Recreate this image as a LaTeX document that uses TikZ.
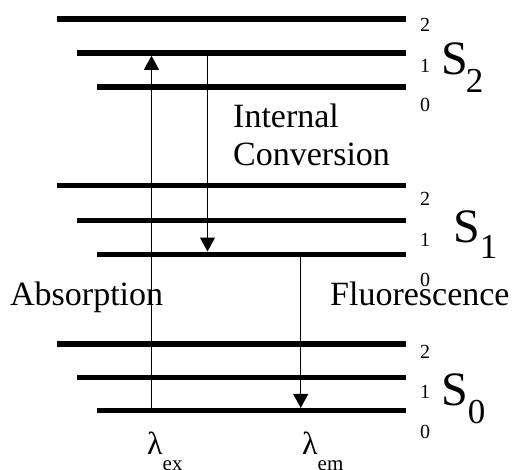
\documentclass[tikz,border=0pt]{standalone}
\usepackage{fontspec}
\setmainfont{Liberation Serif}
\usetikzlibrary{arrows.meta}
\begin{document}
\begin{tikzpicture}[x=1pt,y=-1pt,
  level/.style={line width=5.5pt},
  trans/.style={line width=1.2pt,-{Triangle[length=14pt,width=15pt]}},
  lbl/.style={inner sep=0pt,anchor=base west,font=\fontsize{34}{38}\selectfont},
  num/.style={inner sep=0pt,anchor=base west,font=\fontsize{20}{20}\selectfont},
  statelbl/.style={inner sep=0pt,anchor=base west,font=\fontsize{48}{48}\selectfont},
  wl/.style={inner sep=0pt,anchor=base west,font=\fontsize{32}{32}\selectfont}]
\useasboundingbox (0,0) rectangle (516,470);
% S2 levels
\coordinate (a2L) at (57,19);    \coordinate (a2R) at (406,19);
\coordinate (a1L) at (77,53);    \coordinate (a1R) at (406,53);
\coordinate (a0L) at (97,87);    \coordinate (a0R) at (406,87);
% S1 levels
\coordinate (b2L) at (57,185.3); \coordinate (b2R) at (406,185.3);
\coordinate (b1L) at (77,220.7); \coordinate (b1R) at (406,220.7);
\coordinate (b0L) at (97,254.3); \coordinate (b0R) at (406,254.3);
% S0 levels
\coordinate (c2L) at (57,344);   \coordinate (c2R) at (406,344);
\coordinate (c1L) at (77,377.3); \coordinate (c1R) at (406,377.3);
\coordinate (c0L) at (97,410.7); \coordinate (c0R) at (406,410.7);
\foreach \l in {a2,a1,a0,b2,b1,b0,c2,c1,c0}{\draw[level] (\l L) -- (\l R);}
% transitions
\coordinate (exS) at (151.5,410.7); \coordinate (exE) at (151.5,55.8);
\coordinate (icS) at (207.5,53);    \coordinate (icE) at (207.5,251.5);
\coordinate (flS) at (300.7,254.3); \coordinate (flE) at (300.7,407.9);
\draw[trans] (exS) -- (exE);
\draw[trans] (icS) -- (icE);
\draw[trans] (flS) -- (flE);
% labels
\node[lbl] (ic1) at (233,128) {Internal};
\node[lbl] (ic2) at (233,166) {Conversion};
\node[lbl] (abs) at (10,305) {Absorption};
\node[lbl] (flu) at (330,305) {Fluorescence};
% vibrational numbers
\node[num] (n22) at (420,32) {2};
\node[num] (n21) at (420,73) {1};
\node[num] (n20) at (420,112) {0};
\node[num] (n12) at (420,206) {2};
\node[num] (n11) at (420,246) {1};
\node[num] (n10) at (420,286) {0};
\node[num] (n02) at (420,358) {2};
\node[num] (n01) at (420,398) {1};
\node[num] (n00) at (420,438) {0};
% state labels
\node[statelbl] (S2) at (441,75) {S\kern-2pt\raisebox{-18pt}{\fontsize{35}{35}\selectfont 2}};
\node[statelbl] (S1) at (453,243) {S\raisebox{-16pt}{\fontsize{35}{35}\selectfont 1}};
\node[statelbl] (S0) at (441,405) {S\raisebox{-18pt}{\fontsize{35}{35}\selectfont 0}};
% wavelengths
\node[wl] (lex) at (147,454) {λ\raisebox{-16.5pt}{\fontsize{21}{21}\selectfont ex}};
\node[wl] (lem) at (302,454) {λ\raisebox{-16.5pt}{\fontsize{21}{21}\selectfont em}};
\end{tikzpicture}
\end{document}
